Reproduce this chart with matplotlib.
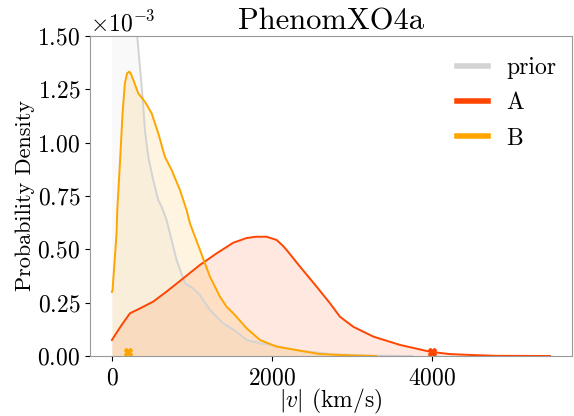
import numpy as np
import matplotlib
matplotlib.use("Agg")
import matplotlib.pyplot as plt

plt.rcParams["font.family"] = "serif"
plt.rcParams["font.serif"] = ["cmr10"]
plt.rcParams["mathtext.fontset"] = "cm"
plt.rcParams["axes.formatter.use_mathtext"] = True
plt.rcParams["axes.unicode_minus"] = False

# prior density (x1e-3 per km/s)
prior_v = [0, 100, 200, 317, 350, 383, 412, 454, 516, 579, 621, 683, 808, 912,
           1017, 1100, 1225, 1391, 1558, 1683, 1850, 2100, 2350, 2766, 3250, 3750]
prior_p = [5.0, 3.4, 2.3, 1.497, 1.356, 1.216, 1.059, 0.934, 0.825, 0.731, 0.70,
           0.638, 0.45, 0.341, 0.317, 0.286, 0.216, 0.153, 0.114, 0.075, 0.06,
           0.044, 0.025, 0.008, 0.002, 0.0]

# posterior A
a_v = [0, 60, 121, 225, 350, 516, 683, 891, 1100, 1308, 1516, 1683, 1800, 1933,
       2058, 2141, 2183, 2350, 2558, 2725, 2850, 3016, 3266, 3600, 3975, 4225,
       4475, 4800, 5475]
a_p = [0.075, 0.11, 0.145, 0.20, 0.223, 0.255, 0.302, 0.364, 0.427, 0.481, 0.531,
       0.553, 0.559, 0.559, 0.544, 0.515, 0.497, 0.419, 0.325, 0.247, 0.184,
       0.137, 0.091, 0.052, 0.02, 0.009, 0.005, 0.001, 0.0]

# posterior B
b_v = [0, 8, 58, 67, 100, 133, 162, 190, 217, 240, 267, 329, 412, 496, 579, 662,
       746, 850, 933, 975, 1100, 1225, 1350, 1433, 1537, 1683, 1850, 2058, 2350,
       2600, 2975, 3300]
b_p = [0.30, 0.31, 0.575, 0.684, 0.903, 1.138, 1.278, 1.325, 1.333, 1.32, 1.294,
       1.231, 1.192, 1.138, 1.044, 0.934, 0.872, 0.778, 0.684, 0.622, 0.497,
       0.372, 0.278, 0.231, 0.192, 0.130, 0.075, 0.044, 0.025, 0.009, 0.003, 0.0]

# injected values
a_true = 4000
b_true = 200
mark_y = 0.02

series = [
    ("prior", prior_v, prior_p, "#d3d3d3"),
    ("A", a_v, a_p, "#ff4500"),
    ("B", b_v, b_p, "#ffa500"),
]

fig = plt.figure(figsize=(5.74, 4.16), dpi=100)
ax = fig.add_axes([0.1568, 0.1442, 0.8397, 0.7693])

for name, v, p, col in series:
    p = np.array(p) * 1e-3
    ax.plot(v, p, color=col, lw=1.4, label=name)
    ax.fill_between(v, 0, p, color=col, alpha=0.12, lw=0)

ax.plot([b_true], [mark_y * 1e-3], "X", color="#ffa500", ms=6)
ax.plot([a_true], [mark_y * 1e-3], "X", color="#ff4500", ms=6)

ax.set_ylim(0, 1.5e-3)
ax.set_yticks([0, 0.25e-3, 0.5e-3, 0.75e-3, 1.0e-3, 1.25e-3, 1.5e-3])
ax.set_xticks([0, 2000, 4000])
ax.ticklabel_format(axis="y", style="sci", scilimits=(0, 0))
ax.yaxis.get_offset_text().set_fontsize(17)

ax.tick_params(labelsize=17, length=3.5, width=0.8, color="black")
ax.tick_params(axis="x", pad=5)
for s in ax.spines.values():
    s.set_color("#999999")

ax.set_xlabel(r"$|v|$ (km/s)", fontsize=17, labelpad=-2)
ax.set_ylabel("Probability Density", fontsize=16, labelpad=2)
ax.set_title("PhenomXO4a", fontsize=22, pad=4)

leg = ax.legend(frameon=False, fontsize=17, handlelength=1.3, loc="upper right",
                bbox_to_anchor=(1.012, 1.0), labelspacing=0.55)
for line in leg.get_lines():
    line.set_linewidth(4)

fig.savefig("out.png", dpi=100)
